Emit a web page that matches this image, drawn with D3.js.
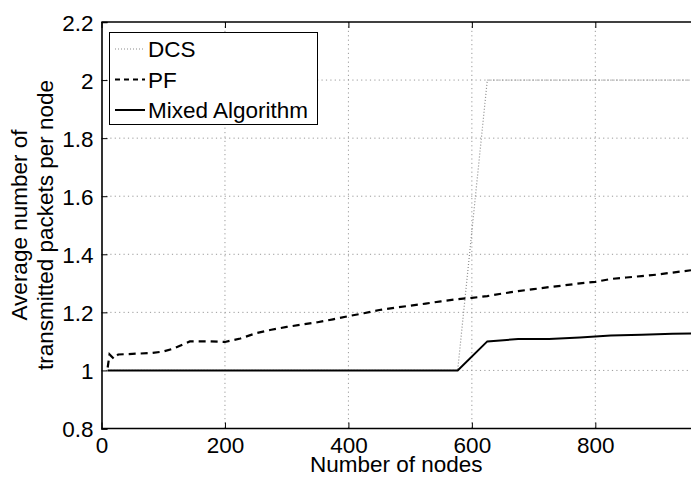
<!DOCTYPE html>
<html>
<head>
<meta charset="utf-8">
<script src="https://cdn.jsdelivr.net/npm/d3@7"></script>
<style>
  html, body { margin: 0; padding: 0; background: #fff; }
  svg { display: block; font-family: "Liberation Sans", Arial, Helvetica, sans-serif; }
</style>
</head>
<body>
<svg id="chart" width="691" height="477"></svg>
<script>
// Number of nodes in the network
const nodesDCS = [10, 577, 625, 955];
const valuesDCS = [1.0, 1.0, 2.0, 2.0];

const nodesPF = [10, 13, 20, 27, 50, 80, 100, 116, 143, 175, 200, 225, 250, 275, 300, 325, 350, 375, 400,
  425, 450, 475, 500, 525, 550, 575, 600, 625, 650, 675, 700, 725, 750, 775, 800, 825, 850, 875, 900, 925, 955];
const valuesPF = [1.01, 1.055, 1.04, 1.055, 1.057, 1.06, 1.065, 1.075, 1.1, 1.1, 1.098, 1.11, 1.128, 1.14, 1.15,
  1.158, 1.166, 1.176, 1.187, 1.197, 1.208, 1.216, 1.223, 1.23, 1.238, 1.245, 1.25, 1.256, 1.265, 1.273, 1.28,
  1.287, 1.293, 1.3, 1.305, 1.315, 1.32, 1.325, 1.33, 1.337, 1.345];

const nodesMixed = [10, 577, 625, 675, 725, 775, 825, 875, 925, 955];
const valuesMixed = [1.0, 1.0, 1.1, 1.108, 1.108, 1.113, 1.12, 1.123, 1.126, 1.127];

const xTicks = [0, 200, 400, 600, 800];
const yTicks = [0.8, 1.0, 1.2, 1.4, 1.6, 1.8, 2.0, 2.2];
const legendLabels = ["DCS", "PF", "Mixed Algorithm"];

const svg = d3.select("#chart");
const plotLeft = 101.5, plotRight = 691, plotTop = 22, plotBottom = 428.5;

const x = d3.scaleLinear().domain([0, 955]).range([plotLeft, plotRight]);
const y = d3.scaleLinear().domain([0.8, 2.2]).range([plotBottom, plotTop]);

// grid
const grid = svg.append("g").attr("stroke", "#9a9a9a").attr("stroke-width", 1).attr("stroke-dasharray", "1.2,3.2");
grid.selectAll("line.gx").data(xTicks.filter(d => d > 0)).join("line").attr("class", "gx")
  .attr("x1", d => x(d)).attr("x2", d => x(d)).attr("y1", plotTop).attr("y2", plotBottom);
grid.selectAll("line.gy").data(yTicks.filter(d => d > 0.8 && d < 2.2)).join("line").attr("class", "gy")
  .attr("y1", d => y(d)).attr("y2", d => y(d)).attr("x1", plotLeft).attr("x2", plotRight);

// data lines
svg.append("defs").append("clipPath").attr("id", "plotclip")
  .append("rect").attr("x", plotLeft).attr("y", plotTop)
  .attr("width", plotRight - plotLeft).attr("height", plotBottom - plotTop);

const lineGen = (xs, ys) => d3.line().x((d, i) => x(xs[i])).y((d, i) => y(ys[i]))(ys);
const plot = svg.append("g").attr("clip-path", "url(#plotclip)").attr("fill", "none");

plot.append("path").attr("d", lineGen(nodesDCS, valuesDCS))
  .attr("stroke", "#8c8c8c").attr("stroke-width", 1.2).attr("stroke-dasharray", "1,2");
plot.append("path").attr("d", lineGen(nodesPF, valuesPF))
  .attr("stroke", "#000").attr("stroke-width", 2.2).attr("stroke-dasharray", "7,5");
plot.append("path").attr("d", lineGen(nodesMixed, valuesMixed))
  .attr("stroke", "#000").attr("stroke-width", 2);

// axes
const fontSize = 22.5;
const xAxis = svg.append("g").attr("transform", `translate(0,${plotBottom})`)
  .call(d3.axisBottom(x).tickValues(xTicks).tickSize(-6).tickPadding(8).tickFormat(d3.format("d")));
const yAxis = svg.append("g").attr("transform", `translate(${plotLeft},0)`)
  .call(d3.axisLeft(y).tickValues(yTicks).tickSize(-6).tickPadding(8).tickFormat(d => String(+d.toFixed(1))));
const topAxis = svg.append("g").attr("transform", `translate(0,${plotTop})`)
  .call(d3.axisTop(x).tickValues(xTicks).tickSize(-6).tickFormat(""));

[xAxis, yAxis, topAxis].forEach(g => {
  g.select(".domain").attr("stroke", "#000").attr("stroke-width", 1.6);
  g.selectAll(".tick line").attr("stroke", "#000").attr("stroke-width", 1);
  g.selectAll(".tick text").attr("fill", "#000").attr("font-size", fontSize)
    .attr("font-family", "'Liberation Sans', Arial, Helvetica, sans-serif");
});
xAxis.selectAll(".tick text").attr("dy", "0.72em");
yAxis.selectAll(".tick text").attr("dy", "0.36em");
// top and bottom borders run across the whole width
topAxis.select(".domain").attr("d", `M${plotLeft},0H${plotRight + 2}`);
xAxis.select(".domain").attr("d", `M${plotLeft},0H${plotRight + 2}`);

// axis titles
svg.append("text").attr("x", (plotLeft + plotRight) / 2).attr("y", 472)
  .attr("text-anchor", "middle").attr("font-size", fontSize).text("Number of nodes");
const yl = svg.append("text").attr("transform", "translate(27,225) rotate(-90)")
  .attr("text-anchor", "middle").attr("font-size", fontSize);
yl.append("tspan").attr("x", 0).attr("dy", 0).text("Average number of");
yl.append("tspan").attr("x", 0).attr("dy", 26).text("transmitted packets per node");

// legend
const lg = svg.append("g");
lg.append("rect").attr("x", 109.5).attr("y", 32.5).attr("width", 208).attr("height", 92)
  .attr("fill", "#fff").attr("stroke", "#000").attr("stroke-width", 1);
const styles = [
  { stroke: "#8c8c8c", w: 1.2, dash: "1,2" },
  { stroke: "#000", w: 2, dash: "5,4" },
  { stroke: "#000", w: 2, dash: null }
];
legendLabels.forEach((lab, i) => {
  const cy = 49 + i * 30.5;
  lg.append("line").attr("x1", 115).attr("x2", 145).attr("y1", cy).attr("y2", cy)
    .attr("stroke", styles[i].stroke).attr("stroke-width", styles[i].w)
    .attr("stroke-dasharray", styles[i].dash);
  lg.append("text").attr("x", 148).attr("y", cy).attr("dy", "0.36em")
    .attr("font-size", fontSize).text(lab);
});
</script>
</body>
</html>
